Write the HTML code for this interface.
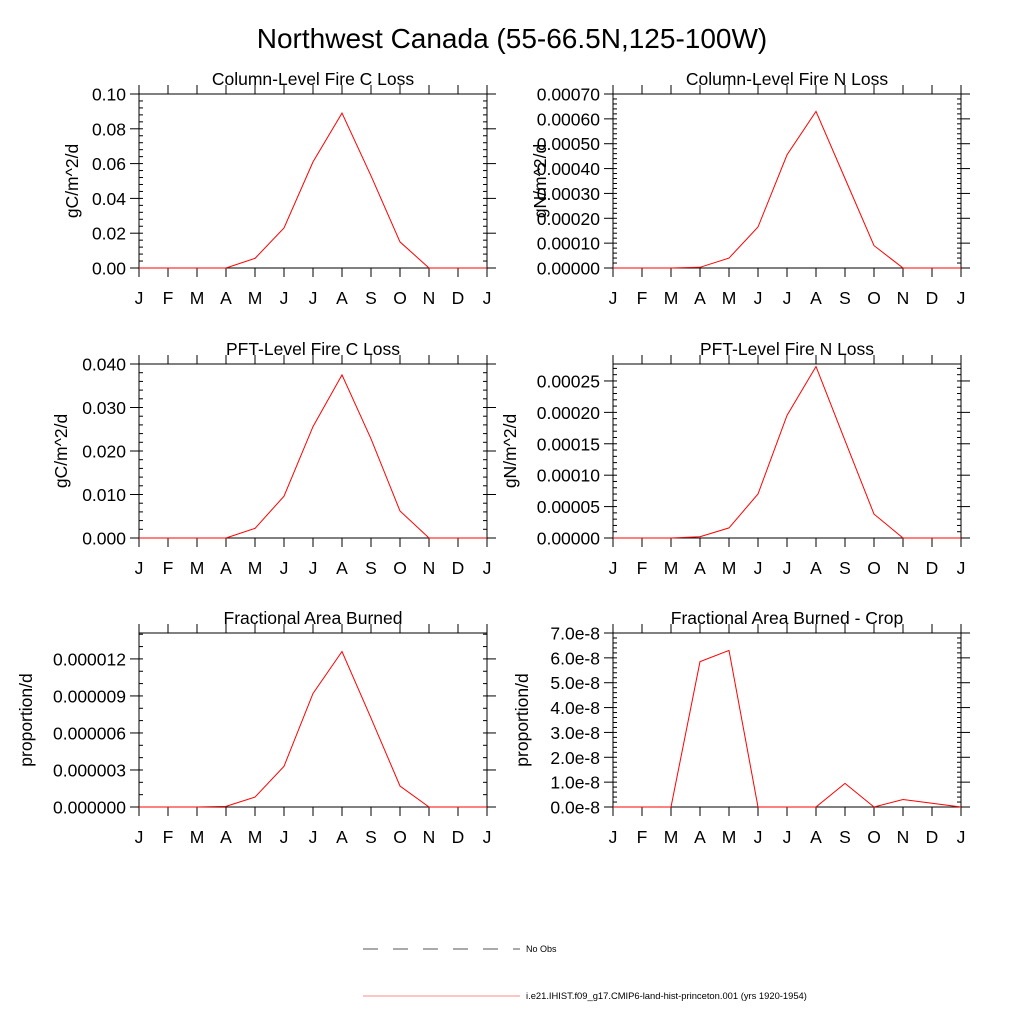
<!DOCTYPE html>
<html><head><meta charset="utf-8"><style>
body{margin:0;background:#fff}
svg{display:block;font-family:"Liberation Sans",Arial,sans-serif}
</style></head><body>
<svg id="chart" width="1024" height="1024" viewBox="0 0 1024 1024">
<rect width="1024" height="1024" fill="#fff"/>
<text x="512" y="48" font-size="28" text-anchor="middle">Northwest Canada (55-66.5N,125-100W)</text>
<g>
<line x1="363" y1="949" x2="520" y2="949" stroke="#555" stroke-width="1" stroke-dasharray="15,15"/>
<text x="526" y="952" font-size="9">No Obs</text>
<line x1="363" y1="996" x2="520" y2="996" stroke="#f88" stroke-width="1"/>
<text x="526" y="999" font-size="9.4">i.e21.IHIST.f09_g17.CMIP6-land-hist-princeton.001 (yrs 1920-1954)</text>
</g>
</svg>
<script>
const months = ["J","F","M","A","M","J","J","A","S","O","N","D","J"];
const colCLoss = [0,0,0,0,0.0055,0.023,0.061,0.089,0.053,0.015,0,0,0];
const colNLoss = [0,0,0,0.000003,0.00004,0.000165,0.000455,0.00063,0.00036,0.00009,0,0,0];
const pftCLoss = [0,0,0,0,0.0022,0.0096,0.0256,0.0375,0.0228,0.0062,0,0,0];
const pftNLoss = [0,0,0,0.000002,0.000016,0.00007,0.000195,0.000273,0.000155,0.000038,0,0,0];
const areaBurned = [0,0,0,0.00000005,0.0000008,0.0000033,0.0000092,0.0000126,0.0000072,0.0000017,0,0,0];
const areaBurnedCrop = [0,0,0,5.85e-8,6.3e-8,0,0,0,0.95e-8,0,0.3e-8,0.15e-8,0];
const ticks1 = ["0.00","0.02","0.04","0.06","0.08","0.10"];
const ticks2 = ["0.00000","0.00010","0.00020","0.00030","0.00040","0.00050","0.00060","0.00070"];
const ticks3 = ["0.000","0.010","0.020","0.030","0.040"];
const ticks4 = ["0.00000","0.00005","0.00010","0.00015","0.00020","0.00025"];
const ticks5 = ["0.000000","0.000003","0.000006","0.000009","0.000012"];
const ticks6 = ["0.0e-8","1.0e-8","2.0e-8","3.0e-8","4.0e-8","5.0e-8","6.0e-8","7.0e-8"];

const panels = [
 {name:"col-c-loss",title:"Column-Level Fire C Loss",ylab:"gC/m^2/d",x:139,y:94,data:colCLoss,ymax:0.10,step:0.02,ticks:ticks1,minor:5,yoff:67},
 {name:"col-n-loss",title:"Column-Level Fire N Loss",ylab:"gN/m^2/d",x:613,y:94,data:colNLoss,ymax:0.0007,step:0.0001,ticks:ticks2,minor:5,yoff:73},
 {name:"pft-c-loss",title:"PFT-Level Fire C Loss",ylab:"gC/m^2/d",x:139,y:364,data:pftCLoss,ymax:0.040,step:0.010,ticks:ticks3,minor:5,yoff:78},
 {name:"pft-n-loss",title:"PFT-Level Fire N Loss",ylab:"gN/m^2/d",x:613,y:364,data:pftNLoss,ymax:0.000277,step:0.00005,ticks:ticks4,minor:5,yoff:103},
 {name:"area-burned",title:"Fractional Area Burned",ylab:"proportion/d",x:139,y:633,data:areaBurned,ymax:0.0000141,step:0.000003,ticks:ticks5,minor:3,yoff:113},
 {name:"area-burned-crop",title:"Fractional Area Burned - Crop",ylab:"proportion/d",x:613,y:633,data:areaBurnedCrop,ymax:7e-8,step:1e-8,ticks:ticks6,minor:5,yoff:91}
];
const W=348,H=174,NS="http://www.w3.org/2000/svg";
const svg=document.getElementById("chart");
function mk(tag,attrs,parent){const e=document.createElementNS(NS,tag);for(const k in attrs)e.setAttribute(k,attrs[k]);parent.appendChild(e);return e;}
panels.forEach(p=>{
 const g=mk("g",{},svg);
 
 
 const xs=i=>p.x+i*W/12;
 const ys=v=>p.y+H-v/p.ymax*H;
 const t=mk("text",{x:p.x+W/2,y:p.y-9,"font-size":17.5,"text-anchor":"middle"},g);
 t.textContent=p.title;
 
 
 const yl=mk("text",{x:0,y:0,"font-size":17.5,"text-anchor":"middle",transform:`translate(${p.x-p.yoff+6},${p.y+H/2}) rotate(-90)`},g);
 yl.textContent=p.ylab;
 
 
 const fr=mk("rect",{x:p.x,y:p.y,width:W,height:H,fill:"none",stroke:"#000","stroke-width":1},g);
 
 
 months.forEach((m,i)=>{
  const x=xs(i);
  mk("line",{x1:x,y1:p.y+H,x2:x,y2:p.y+H+9,stroke:"#000"},g);
  mk("line",{x1:x,y1:p.y,x2:x,y2:p.y-9,stroke:"#000"},g);
  const lt=mk("text",{x:x,y:p.y+H+36,"font-size":17.5,"text-anchor":"middle"},g);
  lt.textContent=m;
  
  
 });
 p.ticks.forEach((lab,i)=>{
  const v=i*p.step,y=ys(v);
  mk("line",{x1:p.x-9,y1:y,x2:p.x,y2:y,stroke:"#000"},g);
  mk("line",{x1:p.x+W,y1:y,x2:p.x+W+9,y2:y,stroke:"#000"},g);
  const lt=mk("text",{x:p.x-13,y:y+6.5,"font-size":17.5,"text-anchor":"end"},g);
  lt.textContent=lab;
  
  
 });
 const ms=p.step/p.minor;
 for(let v=ms;v<p.ymax;v+=ms){
  const y=ys(v);
  mk("line",{x1:p.x,y1:y,x2:p.x+4,y2:y,stroke:"#000"},g);
  mk("line",{x1:p.x+W-4,y1:y,x2:p.x+W,y2:y,stroke:"#000"},g);
 }
 const pts=p.data.map((v,i)=>xs(i).toFixed(1)+","+ys(v).toFixed(1)).join(" ");
 const pl=mk("polyline",{points:pts,fill:"none",stroke:"#f00","stroke-width":1},g);
 
 
});
</script>
</body></html>
